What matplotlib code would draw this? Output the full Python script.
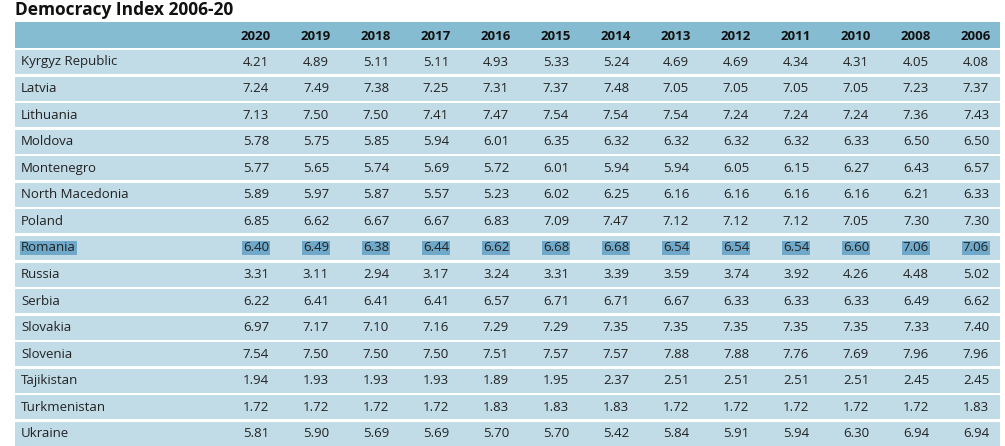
import matplotlib.pyplot as plt
from matplotlib.patches import Rectangle

years = ["2020", "2019", "2018", "2017", "2016", "2015", "2014", "2013", "2012", "2011", "2010", "2008", "2006"]
countries = ["Kyrgyz Republic", "Latvia", "Lithuania", "Moldova", "Montenegro", "North Macedonia",
             "Poland", "Romania", "Russia", "Serbia", "Slovakia", "Slovenia", "Tajikistan",
             "Turkmenistan", "Ukraine"]
values = [
    [4.21, 4.89, 5.11, 5.11, 4.93, 5.33, 5.24, 4.69, 4.69, 4.34, 4.31, 4.05, 4.08],
    [7.24, 7.49, 7.38, 7.25, 7.31, 7.37, 7.48, 7.05, 7.05, 7.05, 7.05, 7.23, 7.37],
    [7.13, 7.50, 7.50, 7.41, 7.47, 7.54, 7.54, 7.54, 7.24, 7.24, 7.24, 7.36, 7.43],
    [5.78, 5.75, 5.85, 5.94, 6.01, 6.35, 6.32, 6.32, 6.32, 6.32, 6.33, 6.50, 6.50],
    [5.77, 5.65, 5.74, 5.69, 5.72, 6.01, 5.94, 5.94, 6.05, 6.15, 6.27, 6.43, 6.57],
    [5.89, 5.97, 5.87, 5.57, 5.23, 6.02, 6.25, 6.16, 6.16, 6.16, 6.16, 6.21, 6.33],
    [6.85, 6.62, 6.67, 6.67, 6.83, 7.09, 7.47, 7.12, 7.12, 7.12, 7.05, 7.30, 7.30],
    [6.40, 6.49, 6.38, 6.44, 6.62, 6.68, 6.68, 6.54, 6.54, 6.54, 6.60, 7.06, 7.06],
    [3.31, 3.11, 2.94, 3.17, 3.24, 3.31, 3.39, 3.59, 3.74, 3.92, 4.26, 4.48, 5.02],
    [6.22, 6.41, 6.41, 6.41, 6.57, 6.71, 6.71, 6.67, 6.33, 6.33, 6.33, 6.49, 6.62],
    [6.97, 7.17, 7.10, 7.16, 7.29, 7.29, 7.35, 7.35, 7.35, 7.35, 7.35, 7.33, 7.40],
    [7.54, 7.50, 7.50, 7.50, 7.51, 7.57, 7.57, 7.88, 7.88, 7.76, 7.69, 7.96, 7.96],
    [1.94, 1.93, 1.93, 1.93, 1.89, 1.95, 2.37, 2.51, 2.51, 2.51, 2.51, 2.45, 2.45],
    [1.72, 1.72, 1.72, 1.72, 1.83, 1.83, 1.83, 1.72, 1.72, 1.72, 1.72, 1.72, 1.83],
    [5.81, 5.90, 5.69, 5.69, 5.70, 5.70, 5.42, 5.84, 5.91, 5.94, 6.30, 6.94, 6.94],
]
highlight = "Romania"

fig = plt.figure(figsize=(10.05, 4.46), dpi=100)
ax = fig.add_axes([0, 0, 1, 1])
ax.set_xlim(0, 1005)
ax.set_ylim(446, 0)
ax.axis("off")

font = "Open Sans"
left, right = 15, 1000
x0, dx = 256, 60
row_h = 26.57
first_c = 62

fig.text(15 / 1005, 1 - 10 / 446, "Democracy Index 2006-20", fontsize=12.5, fontweight="bold",
         family=font, va="center", ha="left", color="#111111")

# header
ax.add_patch(Rectangle((left, 22), right - left, 26, color="#86bcd2", lw=0))
for j, y in enumerate(years):
    ax.text(x0 + j * dx, 36, y, ha="center", va="center", fontsize=9.5, fontweight="bold",
            family=font, color="#111111")

for i, c in enumerate(countries):
    yc = first_c + i * row_h
    ax.add_patch(Rectangle((left, yc - 12), right - left, 24, color="#c1dce7", lw=0))
    hl = c == highlight
    bbox = dict(boxstyle="square,pad=0.05", fc="#6fa8c8", ec="none") if hl else None
    ax.text(21, yc, c, ha="left", va="center", fontsize=9.5, family=font, color="#222222", bbox=bbox)
    for j, v in enumerate(values[i]):
        ax.text(x0 + j * dx, yc, f"{v:.2f}", ha="center", va="center", fontsize=9.5,
                family=font, color="#222222", bbox=bbox)

fig.savefig("out.png", dpi=100)
